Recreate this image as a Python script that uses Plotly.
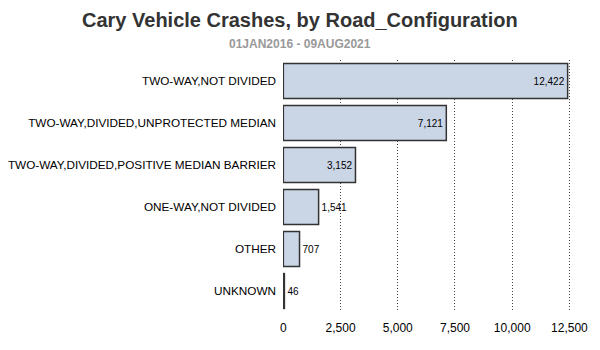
import plotly.graph_objects as go

categories = ["TWO-WAY,NOT DIVIDED", "TWO-WAY,DIVIDED,UNPROTECTED MEDIAN",
              "TWO-WAY,DIVIDED,POSITIVE MEDIAN BARRIER", "ONE-WAY,NOT DIVIDED",
              "OTHER", "UNKNOWN"]
crashes = [12422, 7121, 3152, 1541, 707, 46]
tick_vals = [0, 2500, 5000, 7500, 10000, 12500]
tick_text = ["0", "2,500", "5,000", "7,500", "10,000", "12,500"]
title_text = "Cary Vehicle Crashes, by Road_Configuration"
subtitle_text = "01JAN2016 - 09AUG2021"

labels = [f"{v:,}" for v in crashes]
positions = ["inside" if v > 2500 else "outside" for v in crashes]

fig = go.Figure(go.Bar(
    x=crashes, y=categories, orientation="h",
    marker=dict(color="#cad5e5", line=dict(color="#333333", width=1.5)),
    width=0.83,
    text=labels, textposition=positions, insidetextanchor="end",
    textfont=dict(family="Liberation Sans, Arial", size=10, color="#000000"),
    cliponaxis=False,
))

L, R, T, B = 283, 26, 60, 38
fig.update_layout(
    width=600, height=350,
    margin=dict(l=L, r=R, t=T, b=B),
    paper_bgcolor="white", plot_bgcolor="white",
    showlegend=False,
    font=dict(family="Liberation Sans, Arial", size=12, color="#000000"),
)

fig.update_xaxes(
    range=[-15, 12700], tickvals=tick_vals, ticktext=tick_text,
    showgrid=True, gridcolor="#444444", griddash="1px,2px", gridwidth=1,
    zeroline=False, showline=False,
    ticks="outside", ticklen=5, tickcolor="rgba(0,0,0,0)",
    tickfont=dict(size=12, color="#000000"), automargin=False,
)
fig.update_yaxes(
    autorange="reversed", showgrid=False, zeroline=False, showline=False,
    ticks="", ticklabelstandoff=6, tickfont=dict(size=11.75, color="#000000"),
    automargin=False,
)

plot_w = 600 - L - R
plot_h = 350 - T - B
cx = (300 - L) / plot_w
fig.add_annotation(text=f"<b>{title_text}</b>", xref="paper", yref="paper",
                   x=cx, y=1 + (T - 20) / plot_h, showarrow=False,
                   font=dict(size=20, color="#333333"), xanchor="center", yanchor="middle")
fig.add_annotation(text=f"<b>{subtitle_text}</b>", xref="paper", yref="paper",
                   x=cx, y=1 + (T - 44) / plot_h, showarrow=False,
                   font=dict(size=12, color="#999999"), xanchor="center", yanchor="middle")

fig.write_html("out.html")
